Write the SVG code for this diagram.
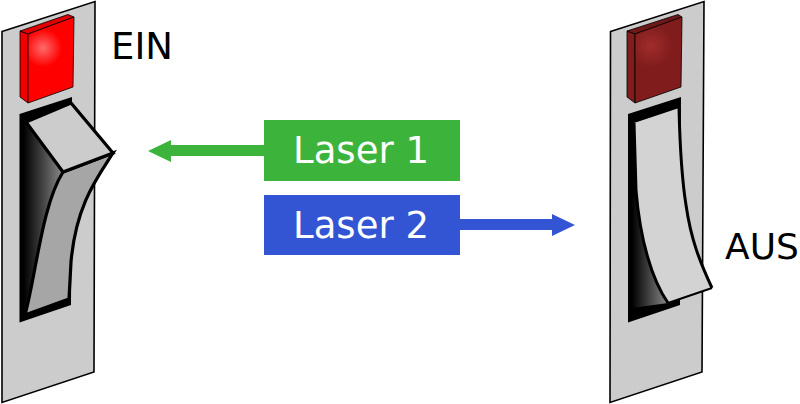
<svg xmlns="http://www.w3.org/2000/svg" width="800" height="404" viewBox="0 0 800 404">
<defs>
<linearGradient id="dark" gradientUnits="objectBoundingBox" x1="0" y1="0" x2="1" y2="0"><stop offset="0" stop-color="#000"/><stop offset="1" stop-color="#8a8a8a"/></linearGradient>
<radialGradient id="glowOn" gradientUnits="userSpaceOnUse" cx="43" cy="48" r="19"><stop offset="0" stop-color="#ff6a6a"/><stop offset="1" stop-color="#ff0000"/></radialGradient>
<radialGradient id="glowOff" gradientUnits="userSpaceOnUse" cx="651" cy="46" r="22"><stop offset="0" stop-color="#a02c2c"/><stop offset="1" stop-color="#801c1c"/></radialGradient>
<style>
.plate{fill:#ccc;stroke:#000;stroke-width:1.6}
.slot{fill:#000}
.tog{stroke:#000;stroke-width:3.2;stroke-linejoin:miter}
.edge{stroke:#000;stroke-width:.8;stroke-linejoin:round}
.lbl{font-family:"DejaVu Sans",sans-serif;font-size:37px}
.w{fill:#fff;text-anchor:middle}
</style>
</defs>
<g id="switch-on">
<path class="plate" d="M2 31.500L95 1.500L94 372L2 402.500Z"/>
<path class="edge" fill="#f00000" d="M20 31L28 34L28 103L20 97Z"/>
<path class="edge" fill="#e00000" d="M20 31L68 14.500L74 17L28 34Z"/>
<path class="edge" fill="url(#glowOn)" d="M28 34L74 17L73 87L28 103Z"/>
<path class="slot" d="M19.500 114L72 97L71 305L19.500 322.500Z"/>
<path fill="url(#dark)" d="M23.500 125L26 122L63 172L62 200L25 315L23.500 316Z"/>
<path class="tog" fill="#a6a6a6" d="M63 172L113 153C97 178 76 205 71 262L69 299L25 315C36 275 42 205 63 172Z"/>
<path class="tog" fill="#ccc" d="M26 122L71 103L113 153L63 172Z"/>
</g>
<g id="switch-off">
<path class="plate" d="M610.500 31.500L704 1.500L702 372L610 402.500Z"/>
<path class="edge" fill="#801c1c" d="M627 31L635 34L635 103L627 97Z"/>
<path class="edge" fill="#701818" d="M627 31L678 14.500L682 17L635 34Z"/>
<path class="edge" fill="url(#glowOff)" d="M635 34L682 17L681 87L635 103Z"/>
<path class="slot" d="M628 114L681 97L680 305L628 322.500Z"/>
<path fill="url(#dark)" d="M632 190L640 215C646 250 655 285 668 303L632 308Z"/>
<path fill="#d3d3d3" d="M634 123L679 108C680 150 682 180 686 205C691 240 700 262 712 288L668 303C652 280 640 240 636 190Z"/>
<path fill="none" stroke="#000" stroke-width="3" d="M679 108C680 150 682 180 686 205C691 240 700 262 712 288"/>
<path fill="none" stroke="#000" stroke-width="2" d="M712 288L668 303"/>
<path fill="none" stroke="#000" stroke-width="3" d="M668 303C652 280 640 240 636 190L634 123"/>
</g>
<g id="label-ein"><text class="lbl" x="111" y="59" fill="#000">EIN</text></g>
<g id="label-aus"><text class="lbl" x="725" y="259" fill="#000" style="font-size:36px">AUS</text></g>
<g id="connectors">
<path fill="#3cb43c" d="M264 145L171 145L171 140L148 151L171 162L171 156L264 156Z"/>
<path fill="#3355d4" d="M460 219L552 219L552 214L575 225L552 236L552 230L460 230Z"/>
</g>
<g id="laser-1"><rect x="264" y="120" width="196" height="61" fill="#3cb43c"/><text class="lbl w" x="361" y="163">Laser 1</text></g>
<g id="laser-2"><rect x="264" y="195" width="196" height="60" fill="#3355d4"/><text class="lbl w" x="361" y="238">Laser 2</text></g>
</svg>
